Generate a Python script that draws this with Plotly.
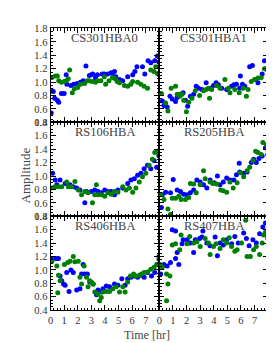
import plotly.graph_objects as go

W, H = 274, 343

panels = ["CS301HBA0", "CS301HBA1", "RS106HBA", "RS205HBA", "RS406HBA", "RS407HBA"]

# CS301HBA0
cs0_blue_t = [0.05,0.1,0.2,0.3,0.5,0.6,0.8,1.0,1.15,1.2,1.5,1.7,1.95,2.2,2.4,2.6,2.85,3.0,3.1,3.3,3.45,3.8,3.95,4.2,4.45,4.55,4.7,4.8,5.07,5.3,5.67,6.04,6.2,6.35,6.76,6.93,7.17,7.37,7.66,7.85,7.97]
cs0_blue_y = [0.54,0.87,0.86,0.76,0.73,0.70,0.83,0.83,1.11,0.97,0.95,0.97,0.98,1.0,1.02,1.24,1.1,1.11,1.12,1.06,1.11,1.12,1.12,1.12,1.14,1.13,1.16,1.08,1.04,1.02,1.08,1.11,1.16,1.23,1.23,1.12,1.32,1.29,1.32,1.39,1.3]
cs0_green_t = [0.1,0.35,0.5,0.6,0.8,1.0,1.15,1.3,1.4,1.6,1.75,2.0,2.2,2.5,2.7,2.85,3.05,3.3,3.45,3.7,3.95,4.05,4.3,4.55,4.75,4.9,5.07,5.43,5.67,5.9,6.04,6.4,6.64,6.88,7.13,7.37,7.6,7.73,7.85,7.97]
cs0_green_y = [1.07,1.09,1.09,1.02,1.0,1.01,1.02,1.05,1.18,0.84,0.9,0.92,0.97,0.98,1.02,1.02,1.01,1.0,1.02,1.02,1.08,0.97,1.02,1.07,1.05,1.01,0.99,0.95,0.94,0.97,1.01,1.0,0.97,0.94,0.91,1.18,1.16,1.23,1.13,1.11]

# CS301HBA1
cs1_blue_t = [0.22,0.34,0.58,0.78,0.95,1.19,1.31,1.55,1.75,1.92,2.08,2.28,2.52,2.71,2.88,3.13,3.44,3.73,3.98,4.17,4.34,4.58,4.95,5.31,5.48,5.67,5.91,5.96,6.11,6.28,6.64,6.84,7.08,7.25,7.56,7.73,7.85]
cs1_blue_y = [0.72,0.65,0.63,0.79,0.75,0.71,0.77,0.82,0.84,0.73,0.64,0.79,0.82,0.94,0.91,0.89,0.99,0.91,0.95,0.99,0.96,0.91,0.89,0.94,0.96,0.97,0.91,1.09,0.97,0.94,1.23,1.25,1.04,0.99,1.12,1.32,1.2]
cs1_green_t = [0.15,0.46,0.63,0.87,1.19,1.31,1.5,1.67,1.79,1.99,2.16,2.4,2.64,2.96,3.25,3.44,3.61,3.69,3.85,4.22,4.46,4.82,5.07,5.19,5.55,5.87,6.16,6.4,6.52,6.76,7.0,7.25,7.49,7.73,7.93]
cs1_green_y = [0.83,0.69,0.57,0.91,0.94,0.82,0.79,0.82,0.73,0.56,0.7,0.76,0.87,0.8,0.87,0.89,0.91,0.76,0.89,0.95,0.91,1.04,0.91,0.84,0.89,0.84,0.91,0.79,0.89,1.01,1.04,1.06,1.07,1.2,1.18]

# RS106HBA
r106_blue_t = [0.15,0.34,0.46,0.7,1.07,1.43,1.67,1.92,2.16,2.52,2.64,3.0,3.25,3.49,3.73,3.98,4.22,4.46,4.7,4.95,5.31,5.67,5.91,6.16,6.4,6.64,6.88,7.13,7.37,7.61,7.8,7.97]
r106_blue_y = [1.04,0.94,0.87,0.94,0.89,0.87,0.84,0.82,0.79,0.6,0.77,0.77,0.79,0.77,0.75,0.79,0.77,0.77,0.72,0.79,0.82,0.89,0.94,0.96,1.01,1.04,1.11,1.16,1.11,1.23,1.13,1.3]
r106_green_t = [0.1,0.34,0.58,0.82,1.19,1.31,1.55,1.79,2.04,2.28,2.52,2.76,3.08,3.25,3.37,3.49,3.73,3.98,4.22,4.46,4.7,4.95,5.31,5.55,5.8,6.04,6.28,6.52,6.76,7.0,7.25,7.49,7.66,7.85,7.97]
r106_green_y = [0.82,0.84,0.84,0.84,0.91,0.84,0.84,0.92,0.79,0.72,0.77,0.75,0.6,0.72,0.87,0.72,0.72,0.7,0.75,0.73,0.77,0.76,0.84,0.79,0.82,0.76,0.82,0.91,0.99,1.04,1.16,1.25,1.35,1.37,1.31]

# RS205HBA
r205_blue_t = [0.15,0.22,0.46,0.82,1.02,1.31,1.55,1.79,2.04,2.28,2.52,2.76,3.0,3.25,3.49,3.73,4.02,4.27,4.46,4.7,4.95,5.19,5.48,5.67,5.87,5.91,6.2,6.45,6.76,6.93,7.13,7.32,7.56,7.8,7.97]
r205_blue_y = [0.53,0.72,0.76,0.75,0.95,0.79,0.77,0.73,0.72,0.75,0.79,0.94,0.91,0.87,0.82,0.94,0.9,1.0,0.87,0.91,0.97,0.94,0.94,1.02,1.19,1.06,1.04,1.06,1.2,1.25,1.2,1.26,1.3,1.42,1.32]
r205_green_t = [0.1,0.34,0.63,0.82,0.95,1.19,1.43,1.6,1.92,2.16,2.28,2.52,2.71,3.0,3.25,3.37,3.73,3.93,4.22,4.51,4.7,4.95,5.19,5.43,5.72,5.96,6.2,6.45,6.64,6.88,7.08,7.25,7.49,7.61,7.85,7.97]
r205_green_y = [0.72,0.65,0.51,0.43,0.67,0.67,0.7,0.65,0.65,0.68,0.89,0.88,0.75,0.87,1.08,0.96,0.91,0.89,0.88,0.79,0.78,0.76,0.91,0.82,0.9,1.05,0.99,1.08,1.13,1.23,1.37,1.35,1.32,1.5,1.47,1.41]

# RS406HBA
r406_blue_t = [0.1,0.4,0.58,0.7,0.82,0.95,1.07,1.19,1.36,1.5,1.67,1.92,2.16,2.28,2.4,2.52,2.71,2.88,3.13,3.38,3.49,3.73,3.85,4.1,4.34,4.7,4.95,5.24,5.48,5.67,5.91,6.16,6.4,6.64,6.88,7.13,7.42,7.66,7.85,7.97]
r406_blue_y = [1.16,1.17,1.17,0.91,0.84,0.79,0.77,0.96,0.68,1.0,0.96,0.7,0.72,0.94,1.08,0.94,0.94,0.82,0.79,0.63,0.7,0.67,0.72,0.76,0.75,0.79,0.77,0.87,0.77,0.87,0.89,0.91,0.89,0.92,0.89,0.96,0.91,0.96,1.08,1.2]
r406_green_t = [0.1,0.46,0.53,0.58,0.7,1.02,1.26,1.43,1.67,1.79,2.04,2.16,2.28,2.47,2.64,2.76,2.88,3.0,3.13,3.25,3.49,3.61,3.73,3.85,4.1,4.34,4.58,4.82,5.07,5.31,5.48,5.67,5.87,6.11,6.28,6.52,6.69,6.88,7.13,7.37,7.61,7.8,7.97]
r406_green_y = [1.13,1.06,0.66,0.92,0.84,1.08,1.11,1.13,1.2,1.12,1.13,0.89,0.79,1.06,0.89,0.75,0.84,0.82,0.79,0.67,0.64,0.54,0.59,0.67,0.68,0.68,0.72,0.75,0.67,0.75,0.67,0.82,0.91,0.94,0.91,0.92,0.94,0.96,0.97,1.01,1.04,1.08,1.16]

# RS407HBA
r407_blue_t = [0.1,0.34,0.58,0.82,0.95,1.19,1.19,1.31,1.43,1.67,1.75,2.04,2.28,2.52,2.64,2.96,3.13,3.2,3.49,3.73,4.1,4.27,4.46,4.7,4.95,5.31,5.55,5.8,6.2,6.4,6.6,6.88,7.13,7.37,7.61,7.8,7.97]
r407_blue_y = [0.94,1.08,1.06,1.11,1.6,1.58,1.17,1.26,1.08,1.39,1.45,1.45,1.4,1.26,1.45,1.47,1.49,1.58,1.4,1.36,1.49,1.21,1.4,1.37,1.45,1.39,1.5,1.4,1.55,1.47,1.36,1.45,1.4,1.54,1.64,1.7,1.49]
r407_green_t = [0.05,0.22,0.53,0.53,0.63,0.78,0.95,1.19,1.5,1.6,2.04,2.23,2.52,2.76,3.0,3.37,3.61,3.73,3.98,4.17,4.46,4.7,4.95,5.14,5.31,5.55,5.72,6.04,6.35,6.45,6.69,6.93,7.13,7.37,7.56,7.66,7.8,7.97]
r407_green_y = [1.08,1.04,0.94,0.54,0.79,0.91,1.37,1.39,1.3,1.52,1.39,1.5,1.4,1.42,1.35,1.47,1.4,1.23,1.35,1.39,1.32,1.45,1.4,1.48,1.35,1.28,1.3,1.4,1.74,1.2,1.2,1.3,1.35,1.23,1.4,1.52,1.56,1.47]

series = [
    (cs0_blue_t, cs0_blue_y, cs0_green_t, cs0_green_y),
    (cs1_blue_t, cs1_blue_y, cs1_green_t, cs1_green_y),
    (r106_blue_t, r106_blue_y, r106_green_t, r106_green_y),
    (r205_blue_t, r205_blue_y, r205_green_t, r205_green_y),
    (r406_blue_t, r406_blue_y, r406_green_t, r406_green_y),
    (r407_blue_t, r407_blue_y, r407_green_t, r407_green_y),
]

y_ticks = [0.4, 0.6, 0.8, 1.0, 1.2, 1.4, 1.6, 1.8]
x_ticks = [0, 1, 2, 3, 4, 5, 6, 7]

BLUE = "#0000ff"
GREEN = "#008000"
FONT = "Liberation Serif"

# pixel geometry
x_edges = [(40, 150), (150, 260)]
y_edges = [(16, 113), (113, 210), (210, 307)]

fig = go.Figure()
layout = dict(
    width=W, height=H, margin=dict(l=0, r=0, t=0, b=0),
    paper_bgcolor="white", plot_bgcolor="white", showlegend=False,
    font=dict(family=FONT, color="#222", size=10),
)
annotations = []
for i, name in enumerate(panels):
    r, c = divmod(i, 2)
    k = i + 1
    xa = "xaxis" if k == 1 else f"xaxis{k}"
    ya = "yaxis" if k == 1 else f"yaxis{k}"
    xr = "x" if k == 1 else f"x{k}"
    yr = "y" if k == 1 else f"y{k}"
    x0, x1 = x_edges[c]
    y0, y1 = y_edges[r]
    bt, by, gt, gy = series[i]
    fig.add_trace(go.Scatter(x=bt, y=by, mode="markers", xaxis=xr, yaxis=yr,
                             marker=dict(color=BLUE, size=5, line=dict(width=0)), cliponaxis=True))
    fig.add_trace(go.Scatter(x=gt, y=gy, mode="markers", xaxis=xr, yaxis=yr,
                             marker=dict(color=GREEN, size=5, line=dict(width=0)), cliponaxis=True))
    layout[xa] = dict(
        domain=[x0 / W, x1 / W], range=[0, 8], anchor=yr,
        showline=True, linecolor="black", linewidth=1, mirror="allticks",
        ticks="inside", ticklen=5, tickwidth=1, tickcolor="black",
        tickvals=x_ticks, showticklabels=(r == 2), showgrid=False, zeroline=False,
        tickfont=dict(family=FONT, size=10.5, color="#333"),
        minor=dict(ticks="inside", ticklen=2.5, dtick=0.25, tickcolor="black", showgrid=False),
    )
    layout[ya] = dict(
        domain=[1 - y1 / H, 1 - y0 / H], range=[0.4, 1.8], anchor=xr,
        showline=True, linecolor="black", linewidth=1, mirror="allticks",
        ticks="inside", ticklen=5, tickwidth=1, tickcolor="black",
        tickvals=y_ticks, ticktext=[f"{v:.1f}" for v in y_ticks],
        showticklabels=(c == 0), showgrid=False, zeroline=False,
        tickfont=dict(family=FONT, size=10.5, color="#333"),
        minor=dict(ticks="inside", ticklen=2.5, dtick=0.05, tickcolor="black", showgrid=False),
    )
    annotations.append(dict(text=name, xref=f"{xr} domain", yref=f"{yr} domain",
                            x=0.5, y=1, xanchor="center", yanchor="top", yshift=-1,
                            showarrow=False, font=dict(family=FONT, size=12.5, color="#444")))

annotations.append(dict(text="Time [hr]", xref="paper", yref="paper", x=137 / W, y=1 - 333 / H,
                        xanchor="center", yanchor="middle", showarrow=False,
                        font=dict(family=FONT, size=12, color="#444")))
annotations.append(dict(text="Amplitude", xref="paper", yref="paper", x=15 / W, y=1 - 168 / H,
                        xanchor="center", yanchor="middle", textangle=-90, showarrow=False,
                        font=dict(family=FONT, size=13, color="#444")))
layout["annotations"] = annotations
fig.update_layout(**layout)
fig.write_html("out.html")
